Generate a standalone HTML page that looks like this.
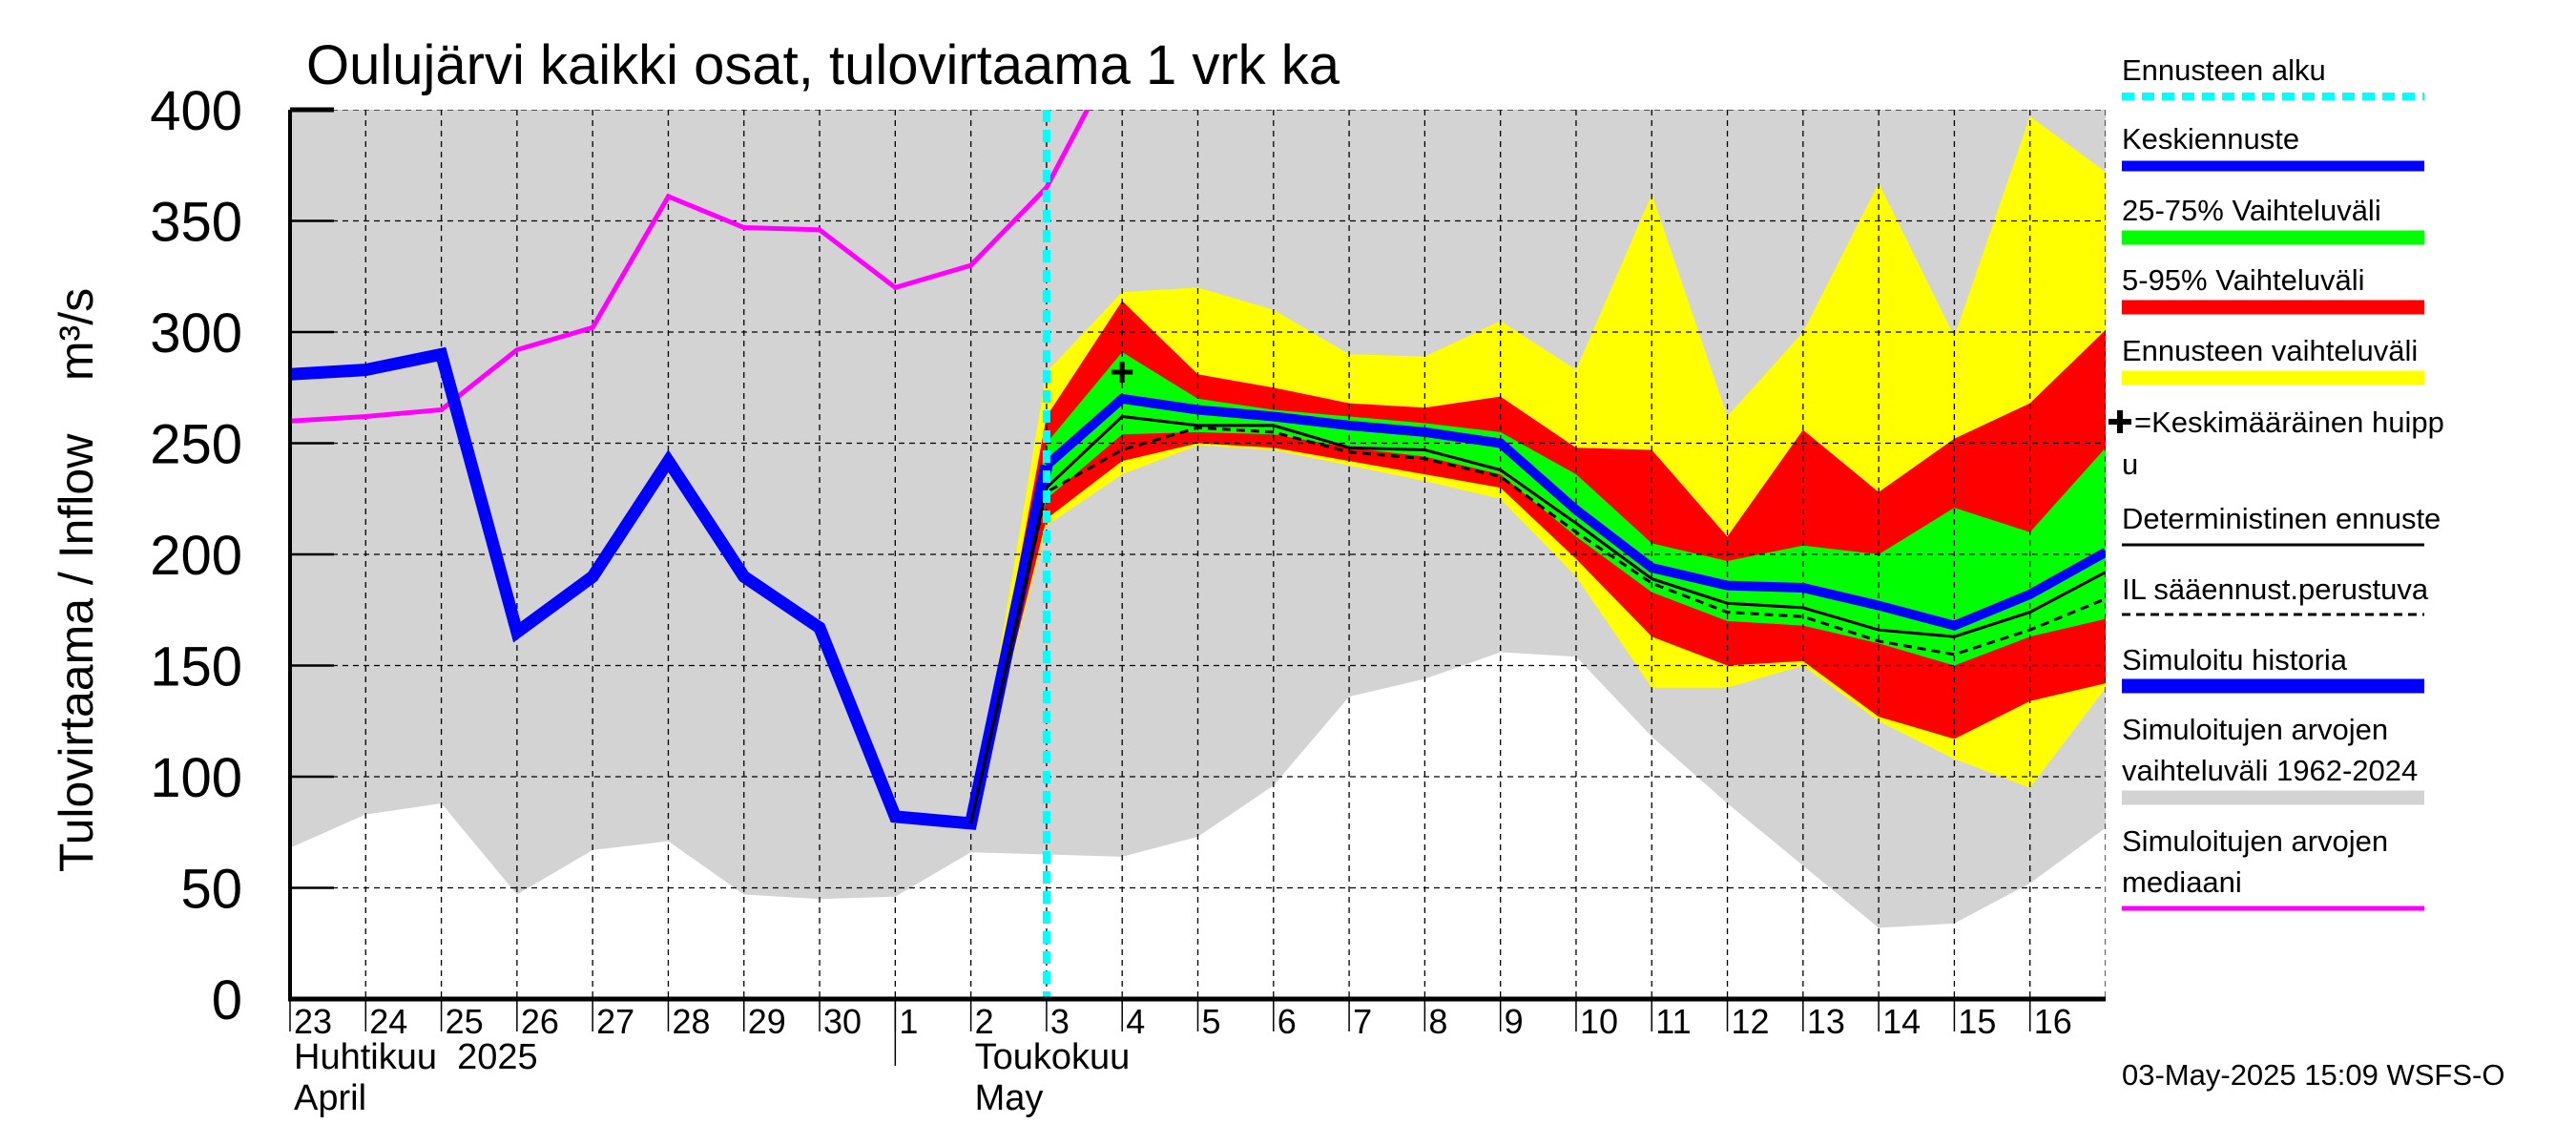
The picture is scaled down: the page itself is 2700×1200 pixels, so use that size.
<!DOCTYPE html>
<html><head><meta charset="utf-8"><style>
html,body{margin:0;padding:0;background:#fff}
svg{display:block;font-family:"Liberation Sans",sans-serif}
</style></head><body>
<svg id="c" width="2700" height="1200" viewBox="0 0 2700 1200"></svg>
<script>
const histDays=[0,1,2,3,4,5,6,7,8,9,10];
const histVals=[281,283,290,165,190,242,190,167,82,79,240];
const fcDays=[10,11,12,13,14,15,16,17,18,19,20,21,22,23,24];
const fcMean=[240,270,265,262,258,255,250,220,194,186,185,177,168,182,201];
const detVals=[230,262,258,258,248,247,238,214,189,178,176,166,163,174,192];
const ilVals=[228,247,257,255,246,243,235,210,187,174,172,161,155,166,180];
const bandDays=[9,10,11,12,13,14,15,16,17,18,19,20,21,22,23,24];
const yelHi=[79,282,318,320,310,290,289,305,283,362,262,300,367,298,397,372];
const yelLo=[79,213,236,249,247,240,233,225,190,140,140,150,125,108,95,140];
const redHi=[79,262,314,281,275,268,266,271,248,247,208,256,228,252,268,301];
const redLo=[79,216,242,250,248,242,236,230,198,163,150,152,127,117,134,142];
const grnHi=[79,250,291,270,265,262,259,255,236,205,197,204,200,221,210,248];
const grnLo=[79,225,254,255,254,248,244,236,208,183,170,168,160,150,163,171];
const medDays=[0,1,2,3,4,5,6,7,8,9,10,11];
const medVals=[260,262,265,292,302,361,347,346,320,330,365,430];
const grayDays=[0,1,2,3,4,5,6,7,8,9,10,11,12,13,14,15,16,17,18,19,20,21,22,23,24];
const grayLo=[68,83,88,47,67,71,47,45,46,66,65,64,73,96,136,144,156,154,118,88,60,32,34,52,77];
const grayHi=[420,420,420,420,420,420,420,420,420,420,420,420,420,420,420,420,420,420,420,420,420,420,420,420,420];
const yTicks=[0,50,100,150,200,250,300,350,400];
const dayLabels=["23","24","25","26","27","28","29","30","1","2","3","4","5","6","7","8","9","10","11","12","13","14","15","16"];
const peakDay=11, peakVal=282, fcStart=10;

const X0=304,X1=2207,Y0=1047,Y1=115;
const x=d=>X0+d*(X1-X0)/24;
const y=v=>Y0-v*(Y0-Y1)/400;
const NS="http://www.w3.org/2000/svg";
const svg=document.getElementById('c');
function el(t,a,p){const e=document.createElementNS(NS,t);for(const k in a)e.setAttribute(k,a[k]);(p||svg).appendChild(e);return e;}
function pts(ds,vs){return ds.map((d,i)=>x(d).toFixed(1)+","+y(vs[i]).toFixed(1)).join(" ");}
function band(ds,hi,lo){return pts(ds,hi)+" "+pts(ds.slice().reverse(),lo.slice().reverse());}

const defs=el('defs',{});
const cp=el('clipPath',{id:'pc'},defs);
el('rect',{x:X0,y:Y1,width:X1-X0,height:Y0-Y1},cp);
const g=el('g',{'clip-path':'url(#pc)'});



let e;
e=el('polygon',{points:band(grayDays,grayHi,grayLo),fill:'#d3d3d3'},g);


e=el('polygon',{points:band(bandDays,yelHi,yelLo),fill:'#ffff00'},g);


e=el('polygon',{points:band(bandDays,redHi,redLo),fill:'#ff0000'},g);


e=el('polygon',{points:band(bandDays,grnHi,grnLo),fill:'#00ff00'},g);



for(let d=1;d<24;d++){e=el('line',{x1:x(d),x2:x(d),y1:Y1,y2:Y0,stroke:'#000','stroke-width':1.3,'stroke-dasharray':'6,5'},g);

}
yTicks.forEach(v=>{if(v>0){e=el('line',{x1:X0,x2:X1,y1:y(v),y2:y(v),stroke:'#000','stroke-width':1.3,'stroke-dasharray':'6,5'},g);

}});
e=el('line',{x1:X1,x2:X1,y1:Y1,y2:Y0,stroke:'#000','stroke-width':1.3,'stroke-dasharray':'6,5'},g);



e=el('polyline',{points:pts(medDays,medVals),fill:'none',stroke:'#ff00ff','stroke-width':5},g);


e=el('polyline',{points:pts(histDays,histVals),fill:'none',stroke:'#0000ff','stroke-width':13,'stroke-linejoin':'miter'},g);


e=el('polyline',{points:pts(fcDays,fcMean),fill:'none',stroke:'#0000ff','stroke-width':10},g);


e=el('polyline',{points:pts([9].concat(fcDays),[79].concat(detVals)),fill:'none',stroke:'#000','stroke-width':3},g);


e=el('polyline',{points:pts([9].concat(fcDays),[79].concat(ilVals)),fill:'none',stroke:'#000','stroke-width':3,'stroke-dasharray':'9,6'},g);


e=el('line',{x1:x(fcStart),x2:x(fcStart),y1:Y1,y2:Y0,stroke:'#00ffff','stroke-width':8,'stroke-dasharray':'13,8'},g);


e=el('path',{d:`M${x(peakDay)-11},${y(peakVal)}h22M${x(peakDay)},${y(peakVal)-11}v22`,stroke:'#000','stroke-width':5},g);



e=el('line',{x1:X0,x2:X0,y1:Y1,y2:Y0+2,stroke:'#000','stroke-width':4});


e=el('line',{x1:X0-2,x2:X1,y1:Y0,y2:Y0,stroke:'#000','stroke-width':5});



yTicks.forEach(v=>{
 e=el('line',{x1:X0,x2:X0+46,y1:y(v),y2:y(v),stroke:'#000','stroke-width':(v==0||v==400)?5:2.5});
 
 
 e=el('text',{x:254,y:y(v)+21,'text-anchor':'end','font-size':58});
 e.textContent=v;
 
 
});
dayLabels.forEach((l,i)=>{
 e=el('line',{x1:x(i),x2:x(i),y1:Y0,y2:Y0+34,stroke:'#000','stroke-width':1.5});
 
 
 e=el('text',{x:x(i)+4,y:1083,'font-size':36});
 e.textContent=l;
 
 
});
e=el('line',{x1:x(8),x2:x(8),y1:Y0,y2:1117,stroke:'#000','stroke-width':1.5});


[["Huhtikuu  2025",x(0)+4,1120,'april-fi'],["April",x(0)+4,1163,'april-en'],["Toukokuu",x(9)+4,1120,'may-fi'],["May",x(9)+4,1163,'may-en']].forEach(t=>{
 e=el('text',{x:t[1],y:t[2],'font-size':38});
 e.textContent=t[0];
 e.style.whiteSpace='pre';
 
 
});
e=el('text',{x:321,y:88,'font-size':58});
e.textContent="Oulujärvi kaikki osat, tulovirtaama 1 vrk ka";


e=el('text',{x:0,y:0,'font-size':50,transform:'translate(97,608) rotate(-90)','text-anchor':'middle'});
e.textContent="Tulovirtaama / Inflow    m³/s";
e.style.whiteSpace='pre';



const LX=2224,LW=317,FS=31;
function ltext(s,yy,name){const t=el('text',{x:LX,y:yy+11,'font-size':FS});t.textContent=s;
 
 return t;}
function lline(yy,col,w,dash,name){const l=el('line',{x1:LX,x2:LX+LW,y1:yy,y2:yy,stroke:col,'stroke-width':w});if(dash)l.setAttribute('stroke-dasharray',dash);
 
 }
ltext("Ennusteen alku",73,'legend-forecast-start-label');lline(101,'#00ffff',8,'13,8','legend-forecast-start-swatch');
ltext("Keskiennuste",145,'legend-mean-label');lline(174,'#0000ff',11,null,'legend-mean-swatch');
ltext("25-75% Vaihteluväli",220,'legend-25-75-label');lline(249,'#00ff00',15,null,'legend-25-75-swatch');
ltext("5-95% Vaihteluväli",293,'legend-5-95-label');lline(322,'#ff0000',15,null,'legend-5-95-swatch');
ltext("Ennusteen vaihteluväli",367,'legend-range-label');lline(396,'#ffff00',15,null,'legend-range-swatch');
e=el('path',{d:`M${LX-14},442h24M${LX-2},430v24`,stroke:'#000','stroke-width':6});


e=el('text',{x:LX+13,y:453,'font-size':FS});e.textContent="=Keskimääräinen huipp";


ltext("u",486,'legend-peak-label-wrap');
ltext("Deterministinen ennuste",543,'legend-deterministic-label');lline(571,'#000',3,null,'legend-deterministic-swatch');
ltext("IL sääennust.perustuva",617,'legend-il-label');lline(644,'#000',3,'9,6','legend-il-swatch');
ltext("Simuloitu historia",691,'legend-history-label');lline(719,'#0000ff',15,null,'legend-history-swatch');
ltext("Simuloitujen arvojen",764,'legend-hist-range-label');ltext("vaihteluväli 1962-2024",807,'legend-hist-range-label2');lline(836,'#d3d3d3',15,null,'legend-hist-range-swatch');
ltext("Simuloitujen arvojen",881,'legend-median-label');ltext("mediaani",924,'legend-median-label2');lline(952,'#ff00ff',5,null,'legend-median-swatch');
e=el('text',{x:LX,y:1137,'font-size':FS});e.textContent="03-May-2025 15:09 WSFS-O";


</script>
</body></html>
